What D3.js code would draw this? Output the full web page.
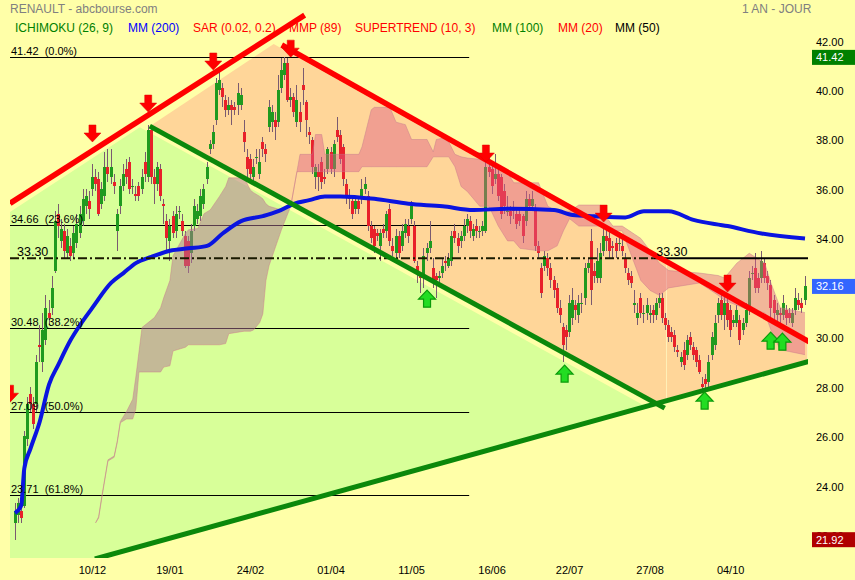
<!DOCTYPE html>
<html><head><meta charset="utf-8">
<script src="https://cdn.jsdelivr.net/npm/d3@7/dist/d3.min.js"></script>
<style>
html,body{margin:0;padding:0;background:#ffffa8;}
svg{display:block;font-family:Arial,"Liberation Sans",sans-serif;}
text{white-space:pre;}
</style></head><body>
<svg id="c" width="855" height="580"></svg>
<script>
// ---------- DATA ----------
const opens=[22.6,22.9,23.1,23.3,26.0,27.8,27.4,27.4,29.8,29.1,
30.0,31.1,31.3,32.8,35.1,34.0,34.4,33.5,33.8,33.5,
33.9,34.3,34.8,35.4,35.6,36.1,36.6,36.5,35.5,35.8,
37.0,36.6,36.4,34.4,35.4,36.2,36.9,37.2,36.2,35.9,
36.2,36.1,37.2,36.6,38.5,36.6,36.3,36.9,35.5,34.8,
34.0,35.0,34.4,35.2,34.8,34.2,34.0,33.5,34.6,34.9,
35.0,35.5,36.5,37.7,37.9,38.9,40.1,40.2,39.7,39.3,
39.5,39.4,39.5,39.5,38.4,37.4,37.3,36.6,37.4,36.7,
38.0,37.7,38.6,38.8,38.9,38.8,40.2,40.7,41.2,39.7,
39.8,38.8,39.2,40.3,39.6,38.4,38.1,36.6,36.8,37.2,
36.6,36.9,37.6,36.9,38.5,38.3,37.8,36.3,35.8,35.6,
35.3,35.6,35.7,36.1,35.8,34.6,34.5,34.3,33.8,34.5,
34.4,35.3,33.8,33.5,34.2,33.8,34.3,34.6,34.9,34.6,
33.0,32.6,32.6,33.5,33.7,32.9,32.6,32.5,32.7,33.2,
33.0,33.2,34.4,34.1,34.0,34.2,34.6,34.8,34.2,34.6,
34.4,34.4,34.4,37.0,36.9,36.5,36.7,36.6,36.0,35.2,
35.2,35.3,35.1,35.1,35.0,34.8,35.7,35.4,35.3,33.8,
32.9,33.0,33.3,32.9,32.4,32.1,31.3,30.5,30.4,30.3,
30.9,31.4,31.0,31.5,31.7,32.9,34.0,32.8,32.5,32.5,
33.6,34.2,34.1,33.8,33.9,33.9,33.8,33.3,32.7,32.6,
31.4,30.9,31.7,31.1,31.1,31.0,31.2,31.0,31.5,31.7,
30.9,30.6,30.3,30.2,29.6,29.1,29.6,29.4,30.1,29.7,
29.6,29.2,28.2,28.4,28.3,29.4,29.8,31.0,31.6,31.0,
31.5,31.2,30.7,30.7,30.8,30.4,30.7,31.2,32.7,32.9,
32.5,32.5,33.1,32.6,32.2,31.6,31.0,31.1,31.0,31.2,
31.1,30.7,31.2,31.6,31.5,31.6];
const highs=[23.4,23.6,23.3,26.3,27.7,28.1,27.7,29.4,30.6,31.1,
31.8,31.6,32.6,35.2,35.5,34.9,34.7,34.5,34.1,34.6,
35.1,35.4,36.1,36.1,36.0,37.1,36.9,36.8,36.4,37.6,
37.7,37.7,36.7,35.3,36.5,37.1,37.3,37.4,36.5,36.2,
36.4,36.9,37.6,38.7,38.7,36.9,37.2,37.1,35.7,35.1,
34.9,35.2,35.4,35.4,35.1,34.4,34.2,34.7,35.7,35.5,
36.1,36.3,37.2,38.1,38.7,40.6,40.9,40.4,39.9,39.8,
39.7,39.6,40.4,40.2,38.9,37.7,37.5,37.3,37.7,37.7,
38.2,37.9,39.7,39.5,39.2,40.7,41.4,41.42,41.4,40.2,
40.0,40.3,39.6,41.0,39.7,38.6,38.2,37.1,37.1,37.4,
36.9,37.8,37.8,38.1,39.0,38.5,37.9,36.5,36.1,35.8,
35.8,35.8,36.5,36.6,36.0,34.8,34.6,34.5,34.5,34.7,
35.2,35.5,34.1,34.5,34.4,34.7,34.9,34.9,35.6,34.8,
33.2,32.7,33.7,33.9,34.8,33.3,32.7,32.8,33.3,33.4,
33.5,34.4,34.7,34.3,34.4,34.9,35.1,35.0,34.7,34.9,
34.6,34.8,37.3,37.4,37.1,37.5,36.9,36.7,36.3,35.8,
35.4,35.6,35.3,35.3,35.1,36.0,35.9,36.0,35.5,34.0,
33.1,33.6,33.5,33.1,32.6,32.3,31.6,30.7,30.6,31.8,
32.1,31.6,31.8,31.9,33.1,33.3,34.5,33.1,33.7,33.9,
34.6,34.5,34.4,34.0,34.1,34.1,34.1,33.5,32.9,32.8,
32.0,31.5,31.9,31.4,31.7,31.4,31.4,31.7,31.9,31.9,
31.1,30.8,30.5,30.4,29.8,29.5,29.9,30.2,30.3,29.9,
29.7,29.4,28.5,28.6,29.4,30.3,31.0,31.7,31.8,31.8,
31.7,31.4,31.0,31.4,31.0,30.9,31.5,32.8,33.0,33.5,
32.7,33.6,33.3,32.8,32.4,31.8,31.5,31.3,31.8,31.4,
31.3,31.3,32.1,31.9,31.7,32.6];
const lows=[21.92,22.6,22.6,23.2,25.7,27.1,26.4,27.1,29.1,28.7,
29.8,30.6,31.0,32.7,34.1,33.7,33.3,33.3,33.2,33.3,
33.7,34.1,34.6,35.1,34.9,35.8,36.0,35.0,35.3,35.6,
36.4,36.3,35.9,33.6,35.1,36.0,36.3,35.9,35.9,35.6,
35.6,35.9,36.4,36.4,36.3,35.5,36.0,35.6,34.7,33.6,
33.2,34.1,34.1,34.9,34.2,32.9,32.7,33.1,34.4,34.7,
34.8,35.3,36.3,37.5,37.7,38.7,39.9,39.4,39.0,39.1,
38.7,39.1,39.1,39.3,37.6,36.6,36.5,36.4,37.1,36.5,
37.4,37.2,38.4,38.4,38.1,38.6,40.0,40.5,39.6,39.4,
39.0,38.6,38.4,39.5,38.2,37.9,36.7,36.1,36.0,36.1,
36.3,36.7,36.7,36.6,38.0,37.1,36.2,35.5,35.3,34.9,
35.1,35.1,35.5,35.9,34.4,33.9,33.5,34.0,33.2,34.1,
34.1,33.8,33.4,33.3,33.3,33.6,34.1,33.9,34.7,33.1,
32.3,31.9,32.1,33.2,33.5,32.1,31.7,32.2,32.5,32.8,
32.9,33.0,33.9,33.5,33.7,34.0,34.3,34.1,34.0,34.1,
34.1,34.2,34.3,36.6,35.9,36.3,35.6,34.9,35.1,35.0,
34.7,34.9,34.5,34.6,33.9,34.6,35.2,35.2,33.6,33.3,
31.7,32.8,32.6,32.1,31.7,31.1,30.7,29.1,29.6,30.1,
30.6,30.8,30.7,31.1,31.4,32.7,31.4,32.3,32.3,32.3,
33.4,33.6,33.3,33.3,33.3,33.6,33.4,32.7,32.2,32.1,
31.1,30.6,30.9,30.7,30.8,30.7,30.7,30.8,31.3,30.7,
30.4,29.9,29.9,29.5,29.3,28.9,28.8,29.2,29.6,29.2,
28.9,28.6,28.0,28.0,28.1,29.2,29.6,30.7,30.8,30.4,
30.5,30.1,30.5,30.5,29.8,30.2,30.5,31.0,32.4,31.9,
31.9,32.3,32.3,32.0,30.8,30.7,30.6,30.7,30.8,30.6,
30.7,30.5,31.0,31.2,31.1,31.4];
const closes=[23.1,23.4,22.8,26.1,27.4,27.4,26.6,29.1,29.7,30.4,
31.3,30.9,32.1,34.8,34.6,34.5,33.6,34.2,33.4,34.3,
34.7,35.1,35.7,35.8,35.3,36.6,36.3,35.1,36.1,37.0,
36.7,37.0,36.2,35.1,36.2,36.7,36.6,36.1,36.2,35.8,
35.8,36.6,36.7,38.5,36.6,36.3,37.0,35.8,35.4,34.1,
34.6,34.3,35.1,35.2,34.4,33.0,33.0,34.4,35.4,35.2,
35.8,36.1,37.0,37.9,38.4,40.4,40.5,39.8,39.3,39.5,
39.3,39.3,40.0,39.9,38.0,36.9,36.7,37.0,37.4,37.2,
37.7,37.5,39.4,39.2,38.6,40.1,40.9,41.2,39.7,39.8,
39.2,39.7,38.8,40.1,38.9,38.3,37.0,37.0,36.6,36.4,
36.5,37.7,36.9,37.9,38.2,37.3,36.5,35.8,35.7,35.1,
35.6,35.3,36.1,36.3,34.6,34.1,33.8,34.2,34.3,34.3,
35.1,34.0,33.6,34.2,33.5,34.4,34.7,34.2,35.4,33.2,
32.7,32.5,33.4,33.7,34.0,32.4,32.4,32.6,33.0,33.1,
33.3,34.2,34.1,33.8,34.2,34.6,34.9,34.4,34.5,34.4,
34.4,34.6,37.0,36.8,36.2,36.7,35.8,35.1,35.4,35.2,
35.0,35.2,34.7,34.8,34.2,35.7,35.4,35.7,33.8,33.5,
31.9,33.4,32.9,32.4,32.0,31.3,31.0,29.8,30.1,31.5,
31.6,31.2,31.5,31.5,32.9,33.1,32.0,32.6,33.2,33.5,
34.2,34.0,33.6,33.7,33.6,33.9,33.6,32.9,32.4,32.3,
31.5,31.1,31.1,31.1,31.4,31.1,31.0,31.5,31.7,30.9,
30.6,30.1,30.1,29.7,29.5,29.3,29.0,30.0,29.8,29.4,
29.1,28.7,28.1,28.2,29.1,30.1,30.7,31.5,31.0,31.5,
30.8,30.4,30.8,31.2,30.0,30.7,31.2,32.5,32.7,32.1,
32.1,33.2,32.5,32.3,31.3,31.1,31.2,31.0,31.5,30.9,
30.9,31.1,31.7,31.4,31.3,32.16];

// MM(200) read at sample candles
const maIdx=[0,2,3,5,8,11,14,18,21,25,31,35,39,44,50,56,62,67,73,80,85,90,95,100,105,116,127,138,148,159,174,180,187,197,203,211,219,230,241,255];
const maVal=[23.0,23.3,24.8,25.6,26.7,28.2,29.0,30.0,30.6,31.3,32.3,32.7,33.1,33.35,33.6,33.7,33.8,34.3,34.8,35.0,35.2,35.5,35.65,35.8,35.8,35.7,35.5,35.4,35.25,35.3,35.25,35.05,35.0,34.95,35.2,35.2,34.85,34.6,34.3,34.1];

// Ichimoku cloud spans (read at sample candles)
const kumoIdx=[26,27,28,30,32,33,34,36,38,39,40,41,45,47,48,50,51,55,56,59,61,63,66,68,69,74,76,77,79,80,81,82,86,89,91,92,96,97,99,100,111,112,115,116,121,123,126,128,133,135,136,138,140,142,144,146,150,153,156,159,161,163,169,172,175,177,179,182,189,190,193,196,202,205,208,211,221,227,229,233,237,242,244,247,255];
const spanA=[22.6,22.85,23.65,25.15,25.3,25.9,26.7,27.1,27.6,28.5,29.5,30.5,30.9,31.3,31.7,32.4,33.4,34.3,34.45,34.5,35.1,35.25,35.8,36.2,36.55,36.55,36.05,35.95,35.8,35.7,35.5,35.4,35.25,35.4,36.8,36.8,36.8,36.8,36.8,36.8,36.8,37.0,37.0,37.0,37.0,37.0,37.0,37.0,37.0,37.4,37.4,37.4,37.4,37.0,36.2,36.0,35.4,35.4,34.6,34.0,34.0,33.7,33.6,33.6,33.8,34.4,34.9,34.6,34.6,34.5,34.4,34.4,32.4,32.0,31.8,32.1,32.3,31.8,31.6,31.4,31.2,31.1,30.4,29.6,29.4];
const spanB=[22.6,22.8,23.6,25.1,25.25,25.85,26.65,26.8,26.8,27.2,28.7,28.7,28.7,28.7,28.9,28.95,29.55,29.7,29.8,29.8,29.8,29.8,29.8,29.85,30.25,30.35,30.35,30.4,30.7,31.05,32.4,33.0,34.45,35.4,36.8,37.5,37.5,38.3,38.3,37.5,37.5,37.8,39.3,39.4,39.4,38.8,38.7,38.1,38.1,37.6,38.1,38.15,38.0,37.5,37.4,37.35,37.3,37.1,36.9,36.75,36.35,36.35,36.35,35.4,35.2,35.2,35.2,35.45,35.45,35.1,34.6,34.6,34.1,33.6,33.1,32.8,32.7,32.6,32.5,33.1,33.5,33.1,32.3,31.3,31.1];

// trend lines [idx, price]
const redUp=[[-1.61,35.52],[93.5,43.13]];
const redDown=[[86.1,41.92],[256.5,29.91]];
const greenDown=[[43.5,38.64],[209.7,27.24]];
const greenUp=[[25.8,21.14],[256.5,29.14]];
// shaded zones [idx, price]
const greenZone=[[-1.61,35.17],[40.3,38.60],[204.5,27.24],[26.8,21.18],[-1.61,21.18]];
const orangeZone1=[[43.5,38.64],[83.5,41.96],[210.3,33.06],[210.3,27.52],[206.5,27.40]];
const orangeZone2=[[210.3,33.06],[255.8,29.87],[255.8,29.10],[210.3,27.52]];

// Fibonacci retracement
const fibVals=[41.42,34.66,30.48,27.09,23.71];
const fibLabels=["41.42  (0.0%)","34.66  (23.6%)","30.48  (38.2%)","27.09  (50.0%)","23.71  (61.8%)"];
const fibEnd=146.6;
const levelVal=33.30, levelSolidFrom=206;

// signals
const downIdx=[-1.6,25,43,64,89,152,190,230];
const downVal=[27.48,38.0,39.21,40.91,41.43,37.19,34.76,31.93];
const upIdx=[133,177.4,222.6,243.9,247.7];
const upVal=[32.01,28.98,27.89,30.31,30.27];

// axes
const xTickIdx=[25,50,76,102,128,154,179,205,231];
const xTickLabels=["10/12","19/01","24/02","01/04","11/05","16/06","22/07","27/08","04/10"];
const yTicks=[42,40,38,36,34,30,28,26,24,22];
const lastHigh=41.42, lastClose=32.16, lastLow=21.92;

const legendItems=[["ICHIMOKU (26, 9)","#008000"],["MM (200)","#0000ff"],["SAR (0.02, 0.2)","#ff0000"],["MMP (89)","#ff0000"],["SUPERTREND (10, 3)","#ff0000"],["MM (100)","#008000"],["MM (20)","#ff0000"],["MM (50)","#000000"]];
const legendX=[15,128,193,289,355,492,558,615];

// ---------- DRAW ----------
const W=855,H=580;
const svg=d3.select("#c");
const x=d3.scaleLinear().domain([0,255]).range([15,805]);
const y=d3.scaleLinear().domain([21.18,43.74]).range([558,0]);
const PL=10,PR=808,PT=0,PB=558;

svg.append("rect").attr("width",W).attr("height",H).attr("fill","#ffffa8");

// header
svg.append("text").attr("x",10).attr("y",13).attr("font-size",12).attr("fill","#808080").text("RENAULT - abcbourse.com");
svg.append("text").attr("x",742).attr("y",13).attr("font-size",12).attr("fill","#808080").text("1 AN - JOUR");
legendItems.forEach((d,k)=>{
  svg.append("text").attr("x",legendX[k]).attr("y",31.5).attr("font-size",12).attr("fill",d[1]).text(d[0]);
});

const defs=svg.append("defs");
defs.append("clipPath").attr("id","plot").append("rect").attr("x",PL).attr("y",PT).attr("width",PR-PL).attr("height",PB-PT);
const g=svg.append("g").attr("clip-path","url(#plot)");

const pathOf=pts=>"M"+pts.map(p=>x(p[0])+","+y(p[1])).join("L")+"Z";
g.append("path").attr("d",pathOf(greenZone)).attr("fill","#d8ff99");
g.append("path").attr("d",pathOf(orangeZone1)).attr("fill","#ffd699");
g.append("path").attr("d",pathOf(orangeZone2)).attr("fill","#ffd699").attr("stroke","#fff0b8").attr("stroke-width",1);

// fib lines
fibVals.forEach((v,k)=>{
  g.append("line").attr("x1",PL).attr("x2",x(fibEnd)).attr("y1",Math.round(y(v))+0.5).attr("y2",Math.round(y(v))+0.5).attr("stroke","#000").attr("stroke-width",1);
});

// candles
const cg=g.append("g").attr("shape-rendering","crispEdges");
d3.range(closes.length).forEach(i=>{
  const up=closes[i]>=opens[i];
  const L=Math.round(x(i)-1.5);
  cg.append("rect").attr("x",L+1).attr("y",y(highs[i])).attr("width",1).attr("height",y(lows[i])-y(highs[i])).attr("fill","#7a5a70");
  const top=y(Math.max(opens[i],closes[i])), bot=y(Math.min(opens[i],closes[i]));
  cg.append("rect").attr("x",L).attr("y",top).attr("width",3).attr("height",Math.max(1,bot-top)).attr("fill",up?"#1f9a1f":"#e8202a");
});

// cloud
const kumo=kumoIdx.map((d,k)=>({i:d,a:spanA[k],b:spanB[k]}));
const areaAB=d3.area().x(d=>x(d.i)).y0(d=>y(d.a)).y1(d=>y(d.b));
const aboveB=d3.area().x(d=>x(d.i)).y0(d=>y(d.b)).y1(PT-50);
const belowB=d3.area().x(d=>x(d.i)).y0(d=>y(d.b)).y1(PB+50);
defs.append("clipPath").attr("id","cA").append("path").attr("d",aboveB(kumo));
defs.append("clipPath").attr("id","cB").append("path").attr("d",belowB(kumo));
g.append("g").attr("clip-path","url(#cA)").append("path").attr("d",areaAB(kumo)).attr("fill","rgba(175,115,150,0.5)");
g.append("g").attr("clip-path","url(#cB)").append("path").attr("d",areaAB(kumo)).attr("fill","rgba(225,95,135,0.45)");
const spanLine=(key)=>d3.line().x(d=>x(d.i)).y(d=>y(d[key]));
g.append("path").attr("d",spanLine("a")(kumo)).attr("fill","none").attr("stroke","rgba(200,120,140,0.45)").attr("stroke-width",1);
g.append("path").attr("d",spanLine("b")(kumo)).attr("fill","none").attr("stroke","rgba(200,120,140,0.45)").attr("stroke-width",1);

// MM 200
const ma=maIdx.map((d,k)=>[d,maVal[k]]);
g.append("path").attr("d",d3.line().x(d=>x(d[0])).y(d=>y(d[1])).curve(d3.curveMonotoneX)(ma))
 .attr("fill","none").attr("stroke","#0a14e0").attr("stroke-width",4).attr("stroke-linejoin","round");

// level 33.30
const ly=y(levelVal);
g.append("line").attr("x1",PL).attr("x2",x(levelSolidFrom)).attr("y1",ly).attr("y2",ly).attr("stroke","#1a1a00").attr("stroke-width",2).attr("stroke-dasharray","9,3,2,3");
g.append("line").attr("x1",x(levelSolidFrom)).attr("x2",PR).attr("y1",ly).attr("y2",ly).attr("stroke","#000").attr("stroke-width",2);

// trend lines
const seg=(pts,col,w)=>g.append("line").attr("x1",x(pts[0][0])).attr("y1",y(pts[0][1])).attr("x2",x(pts[1][0])).attr("y2",y(pts[1][1])).attr("stroke",col).attr("stroke-width",w);
seg(greenDown,"#0b880b",5);
seg(greenUp,"#0b880b",5);
seg(redUp,"#ff0000",5.5);
seg(redDown,"#ff0000",5.5);

// labels on plot
fibVals.forEach((v,k)=>{
  g.append("text").attr("x",11).attr("y",Math.round(y(v))-2).attr("font-size",11).attr("fill","#000").attr("xml:space","preserve").text(fibLabels[k]);
});
g.append("text").attr("x",17).attr("y",ly-2).attr("font-size",12.5).attr("fill","#000").text(levelVal.toFixed(2));
g.append("text").attr("x",x(levelSolidFrom)+3).attr("y",ly-2).attr("font-size",12.5).attr("fill","#000").text(levelVal.toFixed(2));

// arrows
const downArrow="M0,0L-8.5,-9L-3.5,-9L-3.5,-17L3.5,-17L3.5,-9L8.5,-9Z";
const upArrow="M0,0L-8.5,9L-3.5,9L-3.5,17L3.5,17L3.5,9L8.5,9Z";
downIdx.forEach((d,k)=>{
  g.append("path").attr("d",downArrow).attr("transform",`translate(${x(d)},${y(downVal[k])})`).attr("fill","#ff0000").attr("stroke","#e00000").attr("stroke-width",0.5);
});
upIdx.forEach((d,k)=>{
  g.append("path").attr("d",upArrow).attr("transform",`translate(${x(d)},${y(upVal[k])})`).attr("fill","#22dd22").attr("stroke","#0a9a0a").attr("stroke-width",1.2);
});

// y axis labels
yTicks.forEach(v=>{
  svg.append("text").attr("x",816).attr("y",y(v)+2.5).attr("font-size",11).attr("fill","#000").text(v.toFixed(2));
});
const box=(v,col)=>{
  const cy=y(v);
  svg.append("rect").attr("x",812).attr("y",cy-7.5).attr("width",43).attr("height",15).attr("fill",col);
  svg.append("text").attr("x",816).attr("y",cy+4).attr("font-size",11).attr("fill","#fff").text(v.toFixed(2));
};
box(lastHigh,"#008000");
box(lastClose,"#3366ff");
box(lastLow,"#b00000");

// x axis labels
xTickIdx.forEach((d,k)=>{
  svg.append("text").attr("x",x(d)).attr("y",574).attr("font-size",11).attr("text-anchor","middle").attr("fill","#000").text(xTickLabels[k]);
});
</script>
</body></html>
